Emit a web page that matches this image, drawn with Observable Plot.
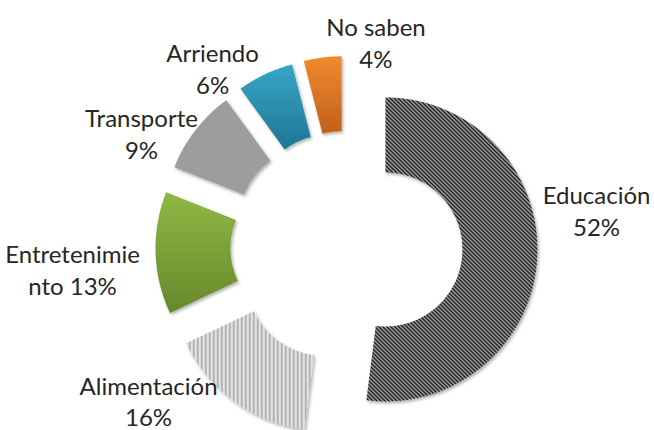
<!DOCTYPE html>
<html><head><meta charset="utf-8">
<script src="https://cdn.jsdelivr.net/npm/d3@7"></script>
<script src="https://cdn.jsdelivr.net/npm/@observablehq/plot@0.6"></script>
<style>html,body{margin:0;padding:0;background:#fff;}</style>
</head><body><div id="chart"></div>
<script>
// ---- data ----
const categories = ["Educación", "Alimentación", "Entretenimiento", "Transporte", "Arriendo", "No saben"];
const percents = [52, 16, 13, 9, 6, 4];
const labelTexts = ["Educación\n52%", "Alimentación\n16%", "Entretenimie\nnto 13%", "Transporte\n9%", "Arriendo\n6%", "No saben\n4%"];

// ---- layout / style ----
const W = 654, H = 430;
const C = [346, 246.5], R = 152, r = 77, explode = 39, labelR = 231;
const fills = ["url(#pEdu)", "url(#pAli)", "url(#gGreen)", "url(#pTra)", "url(#gBlue)", "url(#gOrange)"];
const labelNudge = [[19.5, -51.5], [-62.2, -33.7], [-43.1, 14.7], [-22.5, 27.6], [-35.6, 30], [58.4, 24.2]];

const total = d3.sum(percents);
let acc = 0;
const slices = percents.map((p, i) => {
  const a0 = acc / total * 2 * Math.PI, a1 = (acc + p) / total * 2 * Math.PI;
  acc += p;
  const mid = (a0 + a1) / 2;
  const ox = C[0] + explode * Math.sin(mid), oy = C[1] - explode * Math.cos(mid);
  const n = Math.max(2, Math.ceil((a1 - a0) / (Math.PI / 180)));
  const pts = [];
  for (let k = 0; k <= n; k++) { const a = a0 + (a1 - a0) * k / n; pts.push({x: ox + R * Math.sin(a), y: oy - R * Math.cos(a)}); }
  for (let k = n; k >= 0; k--) { const a = a0 + (a1 - a0) * k / n; pts.push({x: ox + r * Math.sin(a), y: oy - r * Math.cos(a)}); }
  return {name: categories[i], pts, mid, fill: fills[i]};
});

const labels = slices.map((s, i) => ({
  x: C[0] + labelR * Math.sin(s.mid) + labelNudge[i][0],
  y: C[1] - labelR * Math.cos(s.mid) + labelNudge[i][1],
  text: labelTexts[i]
}));

const svg = Plot.plot({
  width: W, height: H, margin: 0,
  axis: null,
  x: {domain: [0, W], range: [0, W]},
  y: {domain: [0, H], range: [0, H]},
  style: {background: "#fff"},
  marks: [
    ...slices.map(s => Plot.line(s.pts, {x: "x", y: "y", fill: s.fill, stroke: "none", curve: "linear"})),
    Plot.text(labels, {x: "x", y: "y", text: "text", fontSize: 24, fontFamily: "Lato, 'Open Sans', sans-serif",
      lineHeight: 1.31, fill: "#262626", textAnchor: "middle", lineAnchor: "middle"})
  ]
});

const defs = d3.select(svg).insert("defs", ":first-child");
defs.html(`
  <pattern id="pEdu" patternUnits="userSpaceOnUse" width="4" height="4">
    <rect width="4" height="4" fill="#fff"/>
    <path d="M-1,-1 L5,5 M-1,3 L1,5 M3,-1 L5,1" stroke="#000" stroke-width="1.75"/>
  </pattern>
  <pattern id="pAli" patternUnits="userSpaceOnUse" width="4" height="4">
    <rect width="4" height="4" fill="#fff"/>
    <rect width="2.7" height="4" fill="#b3b3b3"/>
  </pattern>
  <pattern id="pTra" patternUnits="userSpaceOnUse" width="2" height="2">
    <rect width="2" height="2" fill="#cbcbcb"/>
    <rect width="1" height="1" fill="#6e6e6e"/>
    <rect x="1" y="1" width="1" height="1" fill="#6e6e6e"/>
  </pattern>
  <linearGradient id="gGreen" x1="0" y1="0" x2="0" y2="1">
    <stop offset="0" stop-color="#8fb843"/><stop offset="1" stop-color="#67882c"/>
  </linearGradient>
  <linearGradient id="gBlue" x1="0" y1="0" x2="0" y2="1">
    <stop offset="0" stop-color="#37a5c6"/><stop offset="1" stop-color="#1f7694"/>
  </linearGradient>
  <linearGradient id="gOrange" x1="0" y1="0" x2="0" y2="1">
    <stop offset="0" stop-color="#f08b2e"/><stop offset="1" stop-color="#c25f1a"/>
  </linearGradient>
  <filter id="sh" x="-20%" y="-20%" width="140%" height="140%">
    <feDropShadow dx="1.5" dy="2" stdDeviation="1.6" flood-color="#000" flood-opacity="0.3"/>
  </filter>`);
d3.select(svg).selectAll('g[aria-label="line"]').attr("filter", "url(#sh)");

document.getElementById("chart").appendChild(svg);
</script>
</body></html>
